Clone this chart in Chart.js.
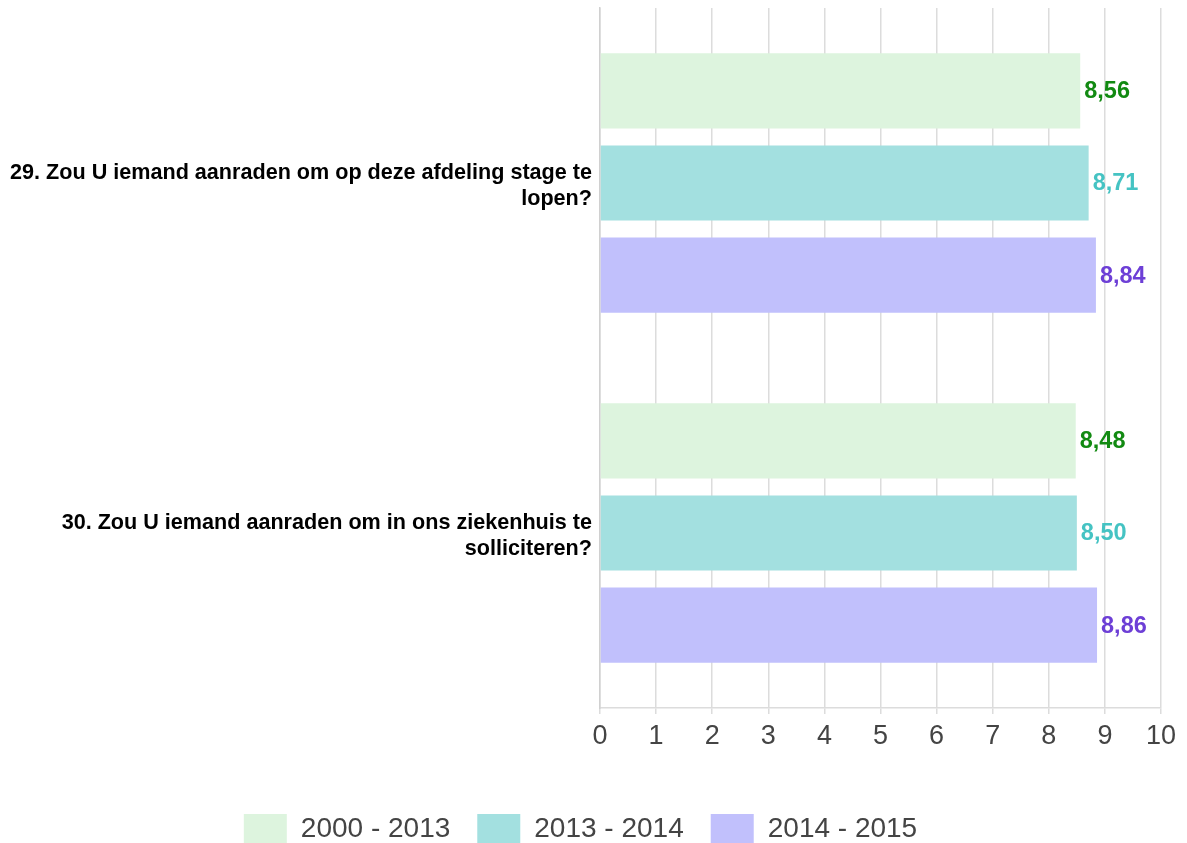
<!DOCTYPE html>
<html><head><meta charset="utf-8">
<script src="https://cdn.jsdelivr.net/npm/chart.js@4"></script>
<style>html,body{margin:0;padding:0;background:#fff;overflow:hidden}</style>
</head><body>
<canvas id="c" width="1187" height="855" style="display:block;width:1187px;height:855px"></canvas>
<script>
const categories = [
  ["29. Zou U iemand aanraden om op deze afdeling stage te", "lopen?"],
  ["30. Zou U iemand aanraden om in ons ziekenhuis te", "solliciteren?"]
];
const seriesNames = ["2000 - 2013", "2013 - 2014", "2014 - 2015"];
const values2000_2013 = [8.56, 8.48];
const values2013_2014 = [8.71, 8.50];
const values2014_2015 = [8.84, 8.86];
const xTicks = [0,1,2,3,4,5,6,7,8,9,10];

const barColors = ["#ddf4de", "#a3e0e0", "#c1c0fc"];
const labelColors = ["#128a12", "#45c3c3", "#6d3fd6"];
const FONT = "'Liberation Sans', Arial, sans-serif";

const valueLabels = {
  id: 'valueLabels',
  afterDatasetsDraw(chart) {
    const ctx = chart.ctx;
    ctx.save();
    ctx.font = "bold 23.5px " + FONT;
    ctx.textBaseline = 'middle';
    ctx.textAlign = 'left';
    chart.data.datasets.forEach((ds, i) => {
      const meta = chart.getDatasetMeta(i);
      ctx.fillStyle = labelColors[i];
      meta.data.forEach((el, j) => {
        const v = ds.data[j];
        ctx.fillText(v.toFixed(2).replace('.', ','), el.x + 4, el.y + 1);
      });
    });
    ctx.restore();
  }
};

new Chart(document.getElementById('c'), {
  type: 'bar',
  data: {
    labels: categories,
    datasets: [
      {label: seriesNames[0], data: values2000_2013, backgroundColor: barColors[0]},
      {label: seriesNames[1], data: values2013_2014, backgroundColor: barColors[1]},
      {label: seriesNames[2], data: values2014_2015, backgroundColor: barColors[2]}
    ]
  },
  options: {
    indexAxis: 'y',
    responsive: false,
    animation: false,
    devicePixelRatio: 1,
    categoryPercentage: 0.79,
    barPercentage: 0.815,
    layout: {padding: {top: 8, right: 26, left: 0, bottom: 0}},
    plugins: {
      tooltip: {enabled: false},
      legend: {
        position: 'bottom',
        labels: {
          boxWidth: 43, boxHeight: 31, padding: 27,
          color: '#444',
          font: {family: FONT, size: 28}
        }
      }
    },
    scales: {
      x: {
        min: 0, max: 10,
        afterBuildTicks(scale) { scale.ticks = xTicks.map(v => ({value: v})); },
        grid: {color: '#dcdcdc', lineWidth: 1.5, tickLength: 6, drawTicks: true},
        border: {color: '#dcdcdc', width: 1.5},
        ticks: {color: '#444', padding: 6, font: {family: FONT, size: 27}},
        afterFit(scale) { scale.height = 79; }
      },
      y: {
        grid: {display: false},
        border: {color: '#d0d0d0', width: 1.5},
        ticks: {color: '#000', padding: 0, labelOffset: 3, font: {family: FONT, size: 21.6, weight: 'bold', lineHeight: 1.2}},
        afterFit(scale) { scale.width = 600; scale.paddingTop = 0; scale.paddingBottom = 0; }
      }
    }
  },
  plugins: [valueLabels]
});
</script>
</body></html>
